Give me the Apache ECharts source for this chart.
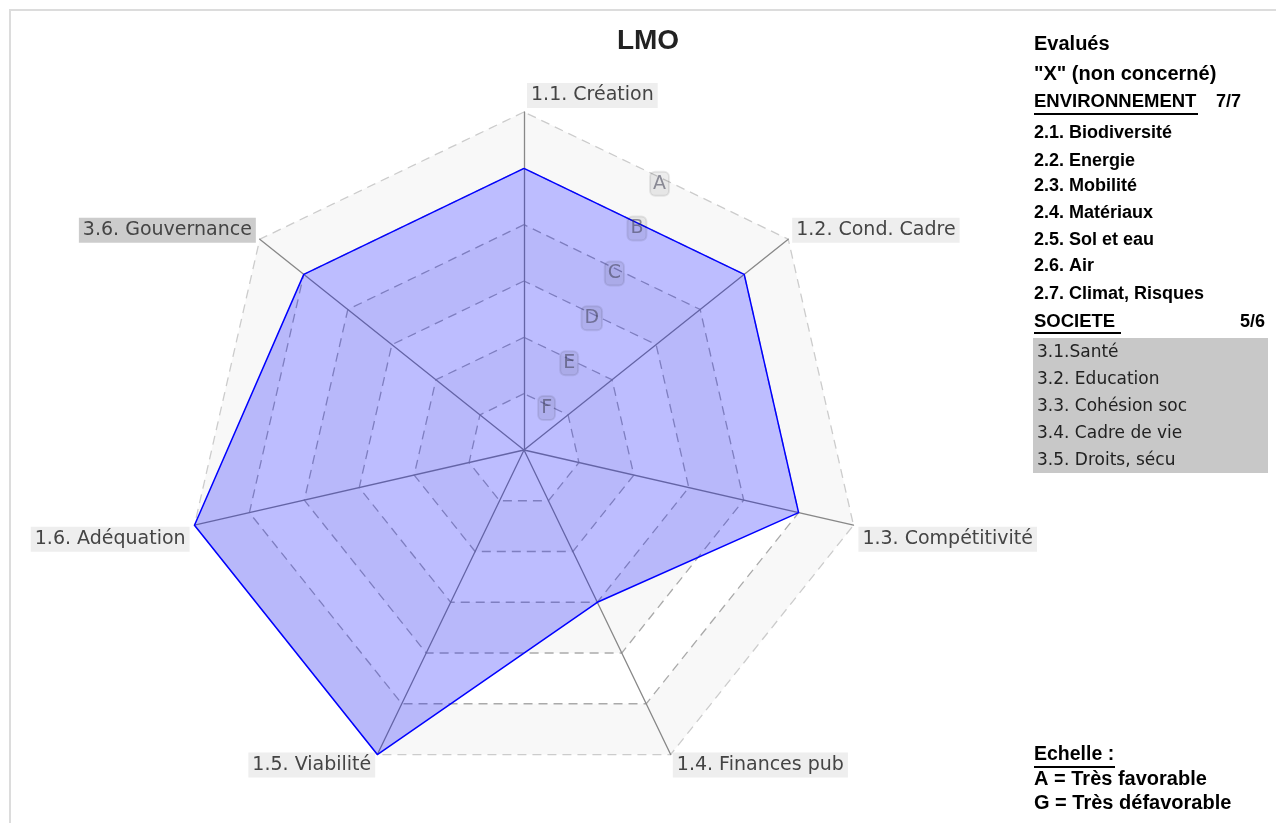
<!DOCTYPE html>
<html><head><meta charset="utf-8">
<script src="https://cdn.jsdelivr.net/npm/echarts@6/dist/echarts.min.js"></script>
<style>html,body{margin:0;padding:0;background:#fff}#c{width:1276px;height:823px}</style>
</head><body><div id="c"></div>
<script>
// ---- data ----
const categories = ['1.1. Création','1.2. Cond. Cadre','1.3. Compétitivité','1.4. Finances pub','1.5. Viabilité','1.6. Adéquation','3.6. Gouvernance'];
const scores = [5, 5, 5, 3, 6, 6, 5];           // 6 = A ... 0 = G
const levelLabels = ['G','F','E','D','C','B','A'];
const highlighted = ['3.6. Gouvernance'];
const titleText = 'LMO';
const legendHeader = ['Evalués', '"X" (non concerné)'];
const envTitle = 'ENVIRONNEMENT';
const envCount = '7/7';
const envItems = ['2.1. Biodiversité','2.2. Energie','2.3. Mobilité','2.4. Matériaux','2.5. Sol et eau','2.6. Air','2.7. Climat, Risques'];
const socTitle = 'SOCIETE';
const socCount = '5/6';
const socItems = ['3.1.Santé','3.2. Education','3.3. Cohésion soc','3.4. Cadre de vie','3.5. Droits, sécu'];
const scaleTitle = 'Echelle :';
const scaleItems = ['A = Très favorable','G = Très défavorable'];

// ---- layout ----
const drawOrder = [0, 6, 5, 4, 3, 2, 1]; // ECharts radar runs counter-clockwise
const CX = 524, CY = 450, R = 338;
const nameFont = '19px "DejaVu Sans"';
const ctx = document.createElement('canvas').getContext('2d');
ctx.font = nameFont;
const topW = ctx.measureText(categories[drawOrder[0]]).width + 8;

const indicators = drawOrder.map(i => ({ name: categories[i], min: 0, max: 6 }));
const values = drawOrder.map(i => scores[i]);

function nameFormatter(name) {
  const k = indicators.findIndex(d => d.name === name);
  const tag = highlighted.indexOf(name) >= 0 ? 'g' : 'n';
  if (k === 0) return '{h| }{' + tag + '|' + name + '}';
  const ang = (90 + k * 360 / 7) * Math.PI / 180;
  const s = Math.sin(ang);
  if (s > 0) return '{' + tag + '|' + name + '}\n{su| }';
  if (s < -0.8) return '{sb| }\n{' + tag + '|' + name + '}';
  return '{sd| }\n{' + tag + '|' + name + '}';
}

const labelBase = { fontFamily: 'DejaVu Sans', fontSize: 19, color: '#444', padding: [3, 4, 3, 4], lineHeight: 23 };

const chart = echarts.init(document.getElementById('c'));
const legendX = 1034;
const bold = (s) => 'bold ' + s + 'px "Liberation Sans", Arial, sans-serif';
const graphics = [
  { type: 'rect', silent: true, z: 0, shape: { x: 10, y: 10, width: 1320, height: 900 }, style: { fill: 'none', stroke: '#dcdcdc', lineWidth: 2 } },
  { type: 'text', z: 10, style: { text: titleText, x: 648, y: 41, align: 'center', verticalAlign: 'middle', font: 'bold 28px "Liberation Sans Narrow", "Liberation Sans", Arial', fill: '#222' } },
  { type: 'text', z: 10, style: { text: legendHeader[0], x: legendX, y: 44, verticalAlign: 'middle', font: bold(20), fill: '#000' } },
  { type: 'text', z: 10, style: { text: legendHeader[1], x: legendX, y: 74, verticalAlign: 'middle', font: bold(20), fill: '#000' } },
  { type: 'text', z: 10, style: { text: envTitle, x: legendX, y: 102, verticalAlign: 'middle', font: bold(18.5), fill: '#000' } },
  { type: 'line', z: 10, shape: { x1: legendX, y1: 114, x2: 1198, y2: 114 }, style: { stroke: '#000', lineWidth: 2 } },
  { type: 'text', z: 10, style: { text: envCount, x: 1241, y: 102, align: 'right', verticalAlign: 'middle', font: bold(18), fill: '#000' } },
  { type: 'text', z: 10, style: { text: socTitle, x: legendX, y: 322, verticalAlign: 'middle', font: bold(18.5), fill: '#000' } },
  { type: 'line', z: 10, shape: { x1: legendX, y1: 333, x2: 1121, y2: 333 }, style: { stroke: '#000', lineWidth: 2 } },
  { type: 'text', z: 10, style: { text: socCount, x: 1265, y: 322, align: 'right', verticalAlign: 'middle', font: bold(18), fill: '#000' } },
  { type: 'rect', z: 9, shape: { x: 1033, y: 338, width: 235, height: 135 }, style: { fill: '#c8c8c8' } },
  { type: 'text', z: 10, style: { text: scaleTitle, x: legendX, y: 755, verticalAlign: 'middle', font: bold(19.5), fill: '#000' } },
  { type: 'line', z: 10, shape: { x1: legendX, y1: 767, x2: 1115, y2: 767 }, style: { stroke: '#000', lineWidth: 2 } }
];
const envY = [133, 161, 186, 213, 240, 266, 294];
envItems.forEach((t, i) => graphics.push({ type: 'text', z: 10, style: { text: t, x: legendX, y: envY[i], verticalAlign: 'middle', font: bold(18), fill: '#000' } }));
socItems.forEach((t, i) => graphics.push({ type: 'text', z: 10, style: { text: t, x: 1037, y: 353 + i * 26.8, verticalAlign: 'middle', font: '17px "DejaVu Sans"', fill: '#222' } }));
scaleItems.forEach((t, i) => graphics.push({ type: 'text', z: 10, style: { text: t, x: legendX, y: 779 + i * 24, verticalAlign: 'middle', font: bold(20), fill: '#000' } }));

chart.setOption({
  animation: false,
  backgroundColor: '#ffffff',
  radar: {
    center: [CX, CY],
    radius: R,
    startAngle: 90,
    splitNumber: 6,
    shape: 'polygon',
    indicator: indicators,
    nameGap: 5,
    axisName: {
      formatter: nameFormatter,
      rich: {
        n: Object.assign({ backgroundColor: '#eeeeee' }, labelBase),
        g: Object.assign({ backgroundColor: '#cccccc' }, labelBase),
        h: { width: topW + 6, fontSize: 10 },
        su: { height: 12, lineHeight: 12, fontSize: 8 },
        sd: { height: 26, lineHeight: 26, fontSize: 8 },
        sb: { height: 12, lineHeight: 12, fontSize: 8 }
      }
    },
    axisLine: { lineStyle: { color: '#888888', width: 1.3 } },
    splitLine: { lineStyle: { color: ['#aaaaaa','#aaaaaa','#aaaaaa','#aaaaaa','#aaaaaa','#aaaaaa','#cccccc'], type: [9, 6], width: 1.3 } },
    splitArea: { show: true, areaStyle: { color: ['#ffffff', '#f8f8f8'] } }
  },
  polar: { center: [CX, CY + 3], radius: R * Math.cos(Math.PI / 7) - 3 },
  angleAxis: { type: 'value', min: 0, max: 360, startAngle: 90 - 360 / 14 - 1, show: false },
  radiusAxis: {
    type: 'value', min: 0, max: 6, interval: 1, z: 10,
    axisLine: { show: false }, axisTick: { show: false }, splitLine: { show: false },
    axisLabel: {
      showMinLabel: false, margin: 0, align: 'center', verticalAlign: 'middle', rotate: 0,
      formatter: v => levelLabels[v],
      fontFamily: 'DejaVu Sans', fontSize: 19, color: 'rgba(60,60,80,0.55)', lineHeight: 21,
      backgroundColor: 'rgba(0,0,0,0.07)', borderColor: 'rgba(0,0,0,0.08)', borderWidth: 1, borderRadius: 5, padding: [2, 3, 1, 3]
    }
  },
  series: [{
    type: 'radar',
    symbol: 'none',
    z: 3,
    lineStyle: { color: '#0000ff', width: 1.5, opacity: 1 },
    areaStyle: { color: '#0000ff', opacity: 0.26 },
    data: [{ value: values, name: titleText }]
  }],
  graphic: graphics
});
</script></body></html>
